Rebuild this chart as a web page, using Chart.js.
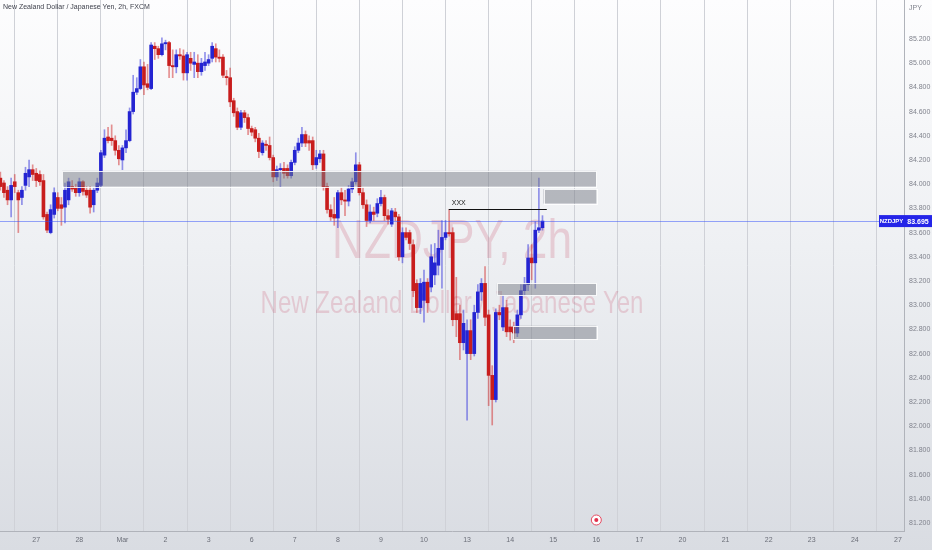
<!DOCTYPE html>
<html lang="en">
<head>
<meta charset="UTF-8">
<title>NZDJPY, 2h</title>
<script src="https://cdn.jsdelivr.net/npm/chart.js@4"></script>
<style>
  html, body { margin: 0; padding: 0; }
  body {
    width: 932px; height: 550px; overflow: hidden;
    background: linear-gradient(to bottom, #fdfdfe 0%, #eef0f3 45%, #d9dce2 100%);
  }
  .wrap { position: relative; width: 932px; height: 550px; }
</style>
</head>
<body>
<div class="wrap"><canvas id="chart"></canvas></div>
<script>
// day labels on the time axis, one every 12 bars (2h candles)
const dayLabels = ['27', '28', 'Mar', '2', '3', '6', '7', '8', '9', '10', '13', '14', '15', '16', '17', '20', '21', '22', '23', '24', '27'];
const barsPerDay = 12;
const firstBar = -10; // bars before the "27" label

const opens = [
  84.05, 84.01, 83.95, 83.87, 84.02, 83.93, 83.89, 83.99, 84.06, 84.12,
  84.09, 84.08, 84.03, 83.75, 83.60, 83.75, 83.89, 83.83, 83.81, 83.87,
  83.98, 83.97, 83.93, 84.02, 83.95, 83.95, 83.83, 83.95, 83.99, 84.24,
  84.39, 84.38, 84.36, 84.28, 84.20, 84.30, 84.36, 84.60, 84.76, 84.79,
  84.97, 84.83, 84.79, 85.14, 85.12, 85.07, 85.16, 85.17, 84.98, 84.97,
  85.07, 85.06, 84.92, 85.04, 84.99, 85.00, 84.93, 84.98, 85.00, 85.04,
  85.12, 85.05, 85.05, 84.89, 84.88, 84.69, 84.60, 84.47, 84.59, 84.55,
  84.46, 84.45, 84.38, 84.26, 84.33, 84.32, 84.22, 84.06, 84.12, 84.13,
  84.13, 84.07, 84.18, 84.28, 84.34, 84.41, 84.36, 84.36, 84.16, 84.21,
  84.25, 83.98, 83.79, 83.75, 83.72, 83.93, 83.87, 83.86, 83.96, 84.02,
  84.16, 83.93, 83.83, 83.70, 83.77, 83.76, 83.84, 83.89, 83.74, 83.67,
  83.77, 83.73, 83.40, 83.60, 83.60, 83.50, 83.18, 82.98, 83.04, 83.19,
  83.15, 83.25, 83.33, 83.46, 83.56, 83.60, 83.60, 82.93, 82.93, 82.69,
  82.60, 82.79, 82.60, 82.94, 83.11, 83.18, 82.92, 82.42, 82.22, 82.94,
  82.82, 82.98, 82.82, 82.82, 82.77, 82.92, 83.12, 83.17, 83.39, 83.35,
  83.62, 83.64
];
const highs = [
  84.10, 84.03, 83.98, 84.05, 84.08, 83.95, 83.98, 84.14, 84.20, 84.16,
  84.13, 84.11, 84.08, 83.77, 83.83, 83.97, 83.93, 83.89, 84.01, 84.05,
  84.03, 84.00, 84.05, 84.03, 83.98, 83.98, 83.97, 84.05, 84.28, 84.45,
  84.47, 84.49, 84.40, 84.32, 84.32, 84.45, 84.63, 84.90, 84.88, 85.03,
  85.01, 84.99, 85.17, 85.17, 85.14, 85.21, 85.19, 85.18, 85.11, 85.11,
  85.12, 85.11, 85.09, 85.09, 85.09, 85.07, 85.04, 85.09, 85.07, 85.17,
  85.16, 85.11, 85.07, 84.94, 84.96, 84.71, 84.63, 84.61, 84.61, 84.58,
  84.48, 84.47, 84.42, 84.36, 84.36, 84.39, 84.24, 84.15, 84.17, 84.18,
  84.16, 84.20, 84.31, 84.38, 84.47, 84.44, 84.40, 84.39, 84.28, 84.28,
  84.28, 84.01, 83.83, 83.89, 83.95, 83.97, 83.95, 83.99, 84.05, 84.26,
  84.18, 83.97, 83.87, 83.83, 83.81, 83.88, 83.95, 83.91, 83.79, 83.80,
  83.80, 83.75, 83.64, 83.64, 83.62, 83.54, 83.21, 83.22, 83.29, 83.22,
  83.50, 83.51, 83.62, 83.70, 83.70, 83.79, 83.64, 83.23, 83.00, 82.96,
  82.88, 82.88, 83.00, 83.17, 83.22, 83.32, 82.96, 82.50, 82.97, 83.00,
  83.08, 83.04, 82.88, 82.86, 82.96, 83.17, 83.23, 83.50, 83.50, 83.69,
  84.05, 83.74
];
const lows = [
  83.95, 83.89, 83.83, 83.73, 83.93, 83.60, 83.83, 83.95, 83.98, 84.03,
  83.98, 83.99, 83.71, 83.60, 83.59, 83.72, 83.78, 83.66, 83.68, 83.83,
  83.94, 83.90, 83.90, 83.91, 83.89, 83.76, 83.77, 83.93, 83.98, 84.22,
  84.34, 84.32, 84.24, 84.16, 84.12, 84.26, 84.35, 84.58, 84.74, 84.78,
  84.74, 84.78, 84.78, 85.03, 85.04, 85.06, 85.11, 84.88, 84.88, 84.92,
  85.03, 84.86, 84.86, 84.94, 84.88, 84.88, 84.90, 84.94, 84.98, 85.01,
  85.01, 85.01, 84.88, 84.82, 84.64, 84.56, 84.45, 84.45, 84.51, 84.41,
  84.40, 84.35, 84.22, 84.24, 84.28, 84.20, 84.02, 84.03, 83.98, 84.05,
  84.05, 84.05, 84.16, 84.26, 84.31, 84.31, 84.28, 84.12, 84.13, 84.18,
  83.95, 83.76, 83.70, 83.66, 83.64, 83.83, 83.74, 83.82, 83.93, 84.00,
  83.91, 83.80, 83.65, 83.68, 83.70, 83.73, 83.82, 83.70, 83.67, 83.65,
  83.70, 83.37, 83.35, 83.54, 83.46, 83.07, 82.94, 82.93, 82.86, 82.94,
  83.11, 83.17, 83.25, 83.14, 83.54, 83.57, 82.83, 82.74, 82.55, 82.63,
  82.05, 82.55, 82.58, 82.89, 83.04, 82.83, 82.17, 82.01, 82.20, 82.88,
  82.79, 82.74, 82.71, 82.69, 82.74, 82.89, 83.08, 83.12, 83.21, 83.14,
  83.60, 83.62
];
const closes = [
  83.98, 83.93, 83.87, 83.99, 83.98, 83.87, 83.95, 84.09, 84.12, 84.08,
  84.03, 84.02, 83.73, 83.62, 83.79, 83.93, 83.80, 83.80, 83.95, 84.02,
  83.96, 83.93, 84.02, 83.94, 83.91, 83.81, 83.95, 84.01, 84.26, 84.38,
  84.36, 84.36, 84.28, 84.21, 84.30, 84.36, 84.60, 84.76, 84.79, 84.97,
  84.82, 84.80, 85.15, 85.12, 85.07, 85.16, 85.17, 84.98, 84.97, 85.07,
  85.06, 84.92, 85.07, 85.00, 85.01, 84.93, 85.00, 85.01, 85.03, 85.14,
  85.05, 85.04, 84.90, 84.88, 84.68, 84.59, 84.47, 84.59, 84.55, 84.46,
  84.43, 84.38, 84.27, 84.34, 84.32, 84.22, 84.06, 84.12, 84.13, 84.09,
  84.07, 84.18, 84.28, 84.34, 84.41, 84.34, 84.34, 84.16, 84.22, 84.25,
  83.98, 83.79, 83.73, 83.72, 83.93, 83.87, 83.86, 83.96, 84.02, 84.16,
  83.93, 83.83, 83.70, 83.77, 83.75, 83.84, 83.89, 83.74, 83.71, 83.78,
  83.73, 83.40, 83.60, 83.56, 83.51, 83.12, 82.98, 83.18, 83.19, 83.02,
  83.40, 83.35, 83.47, 83.56, 83.60, 83.59, 82.88, 82.88, 82.69, 82.85,
  82.79, 82.60, 82.94, 83.11, 83.18, 82.90, 82.42, 82.22, 82.94, 82.92,
  82.98, 82.78, 82.78, 82.77, 82.92, 83.12, 83.17, 83.39, 83.35, 83.62,
  83.64, 83.695
];

const priceTicks = [85.2, 85.0, 84.8, 84.6, 84.4, 84.2, 84.0, 83.8, 83.6, 83.4, 83.2, 83.0, 82.8, 82.6, 82.4, 82.2, 82.0, 81.8, 81.6, 81.4, 81.2];

// grey zones drawn on the chart (bar index from / to, price top / bottom)
const zoneFrom = [7.2, 141.3, 128.3, 132.7];
const zoneTo = [156, 156, 156, 156];
const zoneTop = [84.11, 83.96, 83.18, 82.83];
const zoneBottom = [83.98, 83.84, 83.08, 82.72];

// "XXX" level line
const levelPrice = 83.795;
const levelFrom = 114.9;
const levelTo = 142.2;
const levelLabel = 'XXX';

const symbol = 'NZDJPY';
const title = 'New Zealand Dollar / Japanese Yen, 2h, FXCM';
const eventBar = 156;

const UP = '#2424d2';
const DOWN = '#c81d1d';
const UP_WICK = 'rgba(60,60,220,0.55)';
const DOWN_WICK = 'rgba(210,40,40,0.5)';
const FONT = '"Liberation Sans", Arial, sans-serif';

const barIdx = opens.map((_, k) => firstBar + k);
const isUp = k => closes[k] >= opens[k];

const overlay = {
  id: 'overlay',
  beforeDatasetsDraw(chart) {
    const { ctx, chartArea: a } = chart;
    const cx = (a.left + a.right) / 2;
    ctx.save();
    ctx.fillStyle = 'rgba(195,60,90,0.2)';
    ctx.textAlign = 'center';
    ctx.textBaseline = 'alphabetic';
    const lines = [[symbol + ', 2h', 56, 240, 258], ['New Zealand Dollar / Japanese Yen', 32, 383, 313]];
    lines.forEach(([txt, size, targetW, base]) => {
      ctx.font = size + 'px ' + FONT;
      const w = ctx.measureText(txt).width;
      ctx.save();
      ctx.translate(cx, base);
      ctx.scale(targetW / w, 1);
      ctx.fillText(txt, 0, 0);
      ctx.restore();
    });
    ctx.restore();
  },
  afterDatasetsDraw(chart) {
    const { ctx, chartArea: a, scales: { x, y } } = chart;
    ctx.save();
    // current price line
    const last = closes[closes.length - 1];
    const py = Math.round(y.getPixelForValue(last)) + 0.5;
    ctx.strokeStyle = 'rgba(50,80,250,0.5)';
    ctx.lineWidth = 1;
    ctx.beginPath();
    ctx.moveTo(a.left, py);
    ctx.lineTo(a.right, py);
    ctx.stroke();

    // zones
    zoneFrom.forEach((f, k) => {
      const x1 = x.getPixelForValue(f), x2 = x.getPixelForValue(zoneTo[k]);
      const y1 = y.getPixelForValue(zoneTop[k]), y2 = y.getPixelForValue(zoneBottom[k]);
      ctx.fillStyle = 'rgba(120,123,134,0.5)';
      ctx.fillRect(x1, y1, x2 - x1, y2 - y1);
      ctx.strokeStyle = 'rgba(255,255,255,0.85)';
      ctx.strokeRect(Math.round(x1) + 0.5, Math.round(y1) + 0.5, Math.round(x2 - x1), Math.round(y2 - y1));
    });

    // level line
    const ly = Math.round(y.getPixelForValue(levelPrice)) + 0.5;
    const lx1 = x.getPixelForValue(levelFrom), lx2 = x.getPixelForValue(levelTo);
    ctx.strokeStyle = '#111';
    ctx.lineWidth = 1.2;
    ctx.beginPath();
    ctx.moveTo(lx1, ly);
    ctx.lineTo(lx2, ly);
    ctx.stroke();
    ctx.fillStyle = '#222';
    ctx.font = '7px ' + FONT;
    ctx.textAlign = 'left';
    ctx.textBaseline = 'bottom';
    ctx.fillText(levelLabel, lx1 + 3, ly - 3);
    ctx.restore();
  },
  afterDraw(chart) {
    const { ctx, chartArea: a, scales: { x, y } } = chart;
    ctx.save();
    // price label on the axis
    const last = closes[closes.length - 1];
    const py = y.getPixelForValue(last);
    ctx.fillStyle = '#2424e8';
    ctx.fillRect(a.right - 25, py - 6, 25, 12);
    ctx.fillRect(a.right, py - 6, 28, 12);
    ctx.fillStyle = '#fff';
    ctx.font = 'bold 6px ' + FONT;
    ctx.textAlign = 'center';
    ctx.textBaseline = 'middle';
    ctx.fillText(symbol, a.right - 12.5, py + 0.5);
    ctx.font = 'bold 7px ' + FONT;
    ctx.fillText(last.toFixed(3), a.right + 14, py + 0.5);

    // title and currency
    ctx.fillStyle = '#3c3f4a';
    ctx.font = '7px ' + FONT;
    ctx.textAlign = 'left';
    ctx.textBaseline = 'middle';
    ctx.fillText(title, 3, 7.5);
    ctx.fillStyle = '#80838d';
    ctx.fillText('JPY', a.right + 5, 8);

    // event marker
    const ex = x.getPixelForValue(eventBar), ey = a.bottom - 11;
    ctx.beginPath();
    ctx.arc(ex, ey, 5, 0, Math.PI * 2);
    ctx.fillStyle = '#fff';
    ctx.fill();
    ctx.strokeStyle = '#e5485f';
    ctx.lineWidth = 1;
    ctx.stroke();
    ctx.beginPath();
    ctx.arc(ex, ey, 2, 0, Math.PI * 2);
    ctx.fillStyle = '#e0304c';
    ctx.fill();
    ctx.restore();
  }
};

new Chart(document.getElementById('chart'), {
  type: 'bar',
  data: {
    datasets: [
      {
        label: 'wick',
        data: barIdx.map((b, k) => ({ x: b, y: [lows[k], highs[k]] })),
        backgroundColor: ctx => isUp(ctx.dataIndex) ? UP_WICK : DOWN_WICK,
        barThickness: 1,
        grouped: false,
        order: 2
      },
      {
        label: 'body',
        data: barIdx.map((b, k) => ({ x: b, y: [opens[k], closes[k]] })),
        backgroundColor: ctx => isUp(ctx.dataIndex) ? UP : DOWN,
        barThickness: 3,
        minBarLength: 1,
        grouped: false,
        order: 1
      }
    ]
  },
  options: {
    responsive: true,
    maintainAspectRatio: false,
    animation: false,
    layout: { padding: 0 },
    plugins: { legend: { display: false }, tooltip: { enabled: false } },
    scales: {
      x: {
        type: 'linear',
        min: -10.1,
        max: 241.7,
        offset: false,
        afterBuildTicks: s => { s.ticks = dayLabels.map((l, k) => ({ value: k * barsPerDay })); },
        afterFit: s => { s.height = 19; s.paddingLeft = 0; s.paddingRight = 0; },
        ticks: {
          autoSkip: false, maxRotation: 0, padding: 5,
          color: '#6b6e78', font: { size: 7, family: FONT },
          callback: v => dayLabels[Math.round(v / barsPerDay)]
        },
        grid: { color: '#cfd1d7', drawTicks: false },
        border: { color: '#b0b3ba' }
      },
      y: {
        position: 'right',
        min: 81.134,
        max: 85.522,
        afterBuildTicks: s => { s.ticks = priceTicks.map(v => ({ value: v })); },
        afterFit: s => { s.width = 28; s.paddingTop = 0; s.paddingBottom = 0; },
        ticks: {
          padding: 5, color: '#80838d', font: { size: 7, family: FONT },
          callback: v => v.toFixed(3)
        },
        grid: { drawOnChartArea: false, drawTicks: false },
        border: { color: '#b0b3ba' }
      }
    }
  },
  plugins: [overlay]
});
</script>
</body>
</html>
